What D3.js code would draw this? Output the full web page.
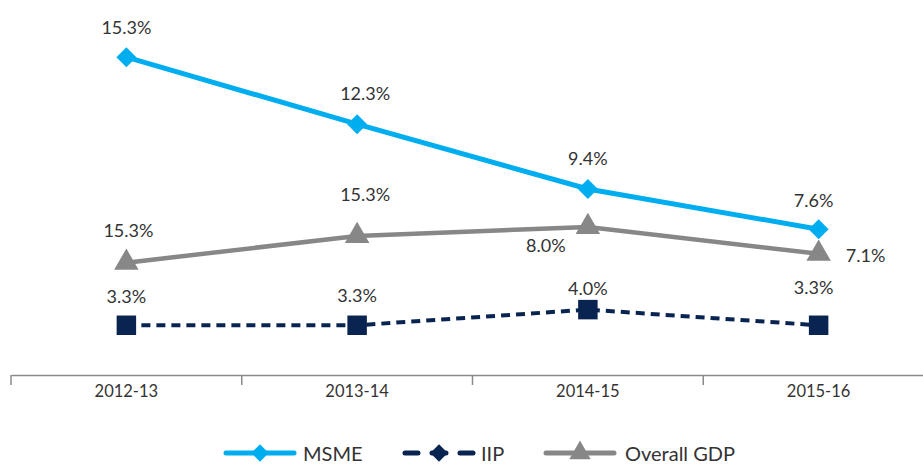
<!DOCTYPE html>
<html lang="en">
    <head>
        <meta charset="UTF-8" />
        <title>D3</title>
        <script src="https://d3js.org/d3.v7.min.js"></script>
        <style>
            body { margin: 0; background: #fff; }
            text { font-family: Lato, "Open Sans", sans-serif; fill: #333; }
        </style>
    </head>
    <body>
        <div class="canvas"></div>
        <script>
            const width = 923;
            const height = 464;

            // data
            const years = ["2012-13", "2013-14", "2014-15", "2015-16"];
            const msme = [15.3, 12.3, 9.4, 7.6];
            const iip = [3.3, 3.3, 4.0, 3.3];
            const gdp = [6.1, 7.3, 7.7, 6.5];
            const msmeLabels = ["15.3%", "12.3%", "9.4%", "7.6%"];
            const iipLabels = ["3.3%", "3.3%", "4.0%", "3.3%"];
            const gdpLabels = ["15.3%", "15.3%", "8.0%", "7.1%"];

            // label offsets [dx, dy] from marker
            const msmeOff = [[0, -30], [8, -31], [0, -31], [-5, -29]];
            const iipOff = [[0, -29], [0, -30], [0, -22], [-5, -38]];
            const gdpOff = [[2, -33], [8, -42], [-42, 18], [47, 1]];

            const svg = d3
                .select(".canvas")
                .append("svg")
                .attr("width", width)
                .attr("height", height);

            const x = d3
                .scaleBand()
                .domain(years)
                .range([11, 934]);

            const y = d3.scaleLinear().domain([0, 16]).range([399, 41.5]);

            const cx = (d, i) => x(years[i]) + x.bandwidth() / 2;

            // x axis
            const axisY = 375;
            const xAxisG = svg
                .append("g")
                .attr("transform", `translate(0, ${axisY})`)
                .call(d3.axisBottom(x).tickSizeInner(0).tickSizeOuter(0).tickPadding(10));
            xAxisG.select(".domain").attr("stroke", "#8a8a8a").attr("stroke-width", 1.5);
            xAxisG.selectAll("text").style("font-size", "16.5px").attr("fill", "#333");
            xAxisG
                .selectAll(".sep")
                .data(years)
                .enter()
                .append("line")
                .attr("x1", (d) => x(d))
                .attr("x2", (d) => x(d))
                .attr("y1", 0)
                .attr("y2", 10)
                .attr("stroke", "#8a8a8a")
                .attr("stroke-width", 1.5);

            const line = d3
                .line()
                .x(cx)
                .y((d) => y(d));

            // diamond = square turned 45 degrees
            const series = [
                { name: "MSME", values: msme, labels: msmeLabels, off: msmeOff, color: "#00aeef", width: 5, dash: null, symbol: d3.symbolSquare, rot: 45, size: 200, legendSymbol: d3.symbolSquare, legendRot: 45 },
                { name: "IIP", values: iip, labels: iipLabels, off: iipOff, color: "#0a2451", width: 4, dash: "9,6", symbol: d3.symbolSquare, rot: 0, size: 380, legendSymbol: d3.symbolSquare, legendRot: 45 },
                { name: "Overall GDP", values: gdp, labels: gdpLabels, off: gdpOff, color: "#878787", width: 4.5, dash: null, symbol: d3.symbolTriangle, rot: 0, size: 260, legendSymbol: d3.symbolTriangle, legendRot: 0 },
            ];

            // draw in order: IIP, GDP, MSME
            [series[1], series[2], series[0]].forEach((s) => {
                const g = svg.append("g");
                g.append("path")
                    .attr("d", line(s.values))
                    .attr("fill", "none")
                    .attr("stroke", s.color)
                    .attr("stroke-width", s.width)
                    .attr("stroke-dasharray", s.dash);

                g.selectAll("path.mk")
                    .data(s.values)
                    .enter()
                    .append("path")
                    .attr("class", "mk")
                    .attr("d", d3.symbol().type(s.symbol).size(s.size))
                    .attr("fill", s.color)
                    .attr("transform", (d, i) => `translate(${cx(d, i)}, ${y(d)}) rotate(${s.rot})`);

                g.selectAll("text")
                    .data(s.values)
                    .enter()
                    .append("text")
                    .attr("x", (d, i) => cx(d, i) + s.off[i][0])
                    .attr("y", (d, i) => y(d) + s.off[i][1])
                    .attr("text-anchor", "middle")
                    .attr("dominant-baseline", "central")
                    .style("font-size", "18px")
                    .text((d, i) => s.labels[i]);
            });

            // legend
            const legendPos = [226, 405, 546];
            const legend = svg
                .selectAll(".legend")
                .data(series)
                .enter()
                .append("g")
                .attr("transform", (d, i) => `translate(${legendPos[i]}, 453)`);

            legend
                .append("line")
                .attr("x1", 0)
                .attr("x2", 68)
                .attr("stroke", (d) => d.color)
                .attr("stroke-width", 5)
                .attr("stroke-linecap", "round")
                .attr("stroke-dasharray", (d) => (d.dash ? "13,14,14,14,13" : null));

            legend
                .append("path")
                .attr("d", (d) => d3.symbol().type(d.legendSymbol).size(d.legendSymbol === d3.symbolTriangle ? 200 : 150)())
                .attr("transform", (d) => `translate(34, 0) rotate(${d.legendRot})`)
                .attr("fill", (d) => d.color);

            legend
                .append("text")
                .attr("x", (d, i) => [77, 76, 79][i])
                .attr("y", 0)
                .attr("dominant-baseline", "central")
                .style("font-size", "20px")
                .text((d) => d.name);
        </script>
    </body>
</html>
